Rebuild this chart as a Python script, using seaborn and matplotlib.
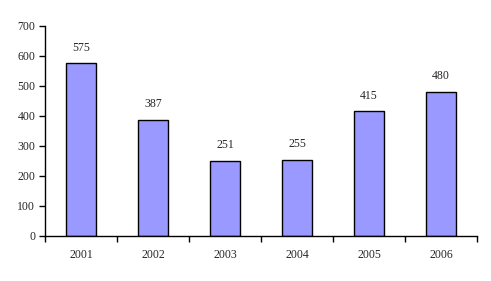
import matplotlib
matplotlib.use("Agg")
import matplotlib.pyplot as plt
import seaborn as sns
import pandas as pd
from matplotlib.ticker import FixedLocator

years = ["2001", "2002", "2003", "2004", "2005", "2006"]
values = [575, 387, 251, 255, 415, 480]

sns.set_theme(style="white")
plt.rcParams['font.family'] = ['Liberation Serif', 'DejaVu Serif']

df = pd.DataFrame({"year": years, "value": values})

fig = plt.figure(figsize=(4.91, 2.81), dpi=100)
ax = fig.add_axes([45/491, 45/281, 432/491, 210/281])

sns.barplot(data=df, x="year", y="value", ax=ax, color="#9999FF",
            saturation=1, edgecolor="black", linewidth=1.0, width=0.41)

ax.set_xlim(-0.5, len(years) - 0.5)
ax.set_ylim(0, 700)
ax.set_yticks(range(0, 701, 100))
ax.set_xlabel("")
ax.set_ylabel("")

for s in ["top", "right"]:
    ax.spines[s].set_visible(False)
for s in ["left", "bottom"]:
    ax.spines[s].set_color("black")
    ax.spines[s].set_linewidth(1.0)

ax.tick_params(axis="y", which="major", direction="out", length=4, width=1,
               color="black", labelsize=8.5, pad=3, left=True)
ax.tick_params(axis="x", which="major", length=0, labelsize=8.5, pad=9)
ax.xaxis.set_minor_locator(FixedLocator([i - 0.5 for i in range(len(years) + 1)]))
ax.tick_params(axis="x", which="minor", direction="out", length=4, width=1,
               color="black", bottom=True)

for c in ax.containers:
    ax.bar_label(c, labels=[str(v) for v in values], padding=7, fontsize=8.5)

fig.savefig("out.png", dpi=100)
